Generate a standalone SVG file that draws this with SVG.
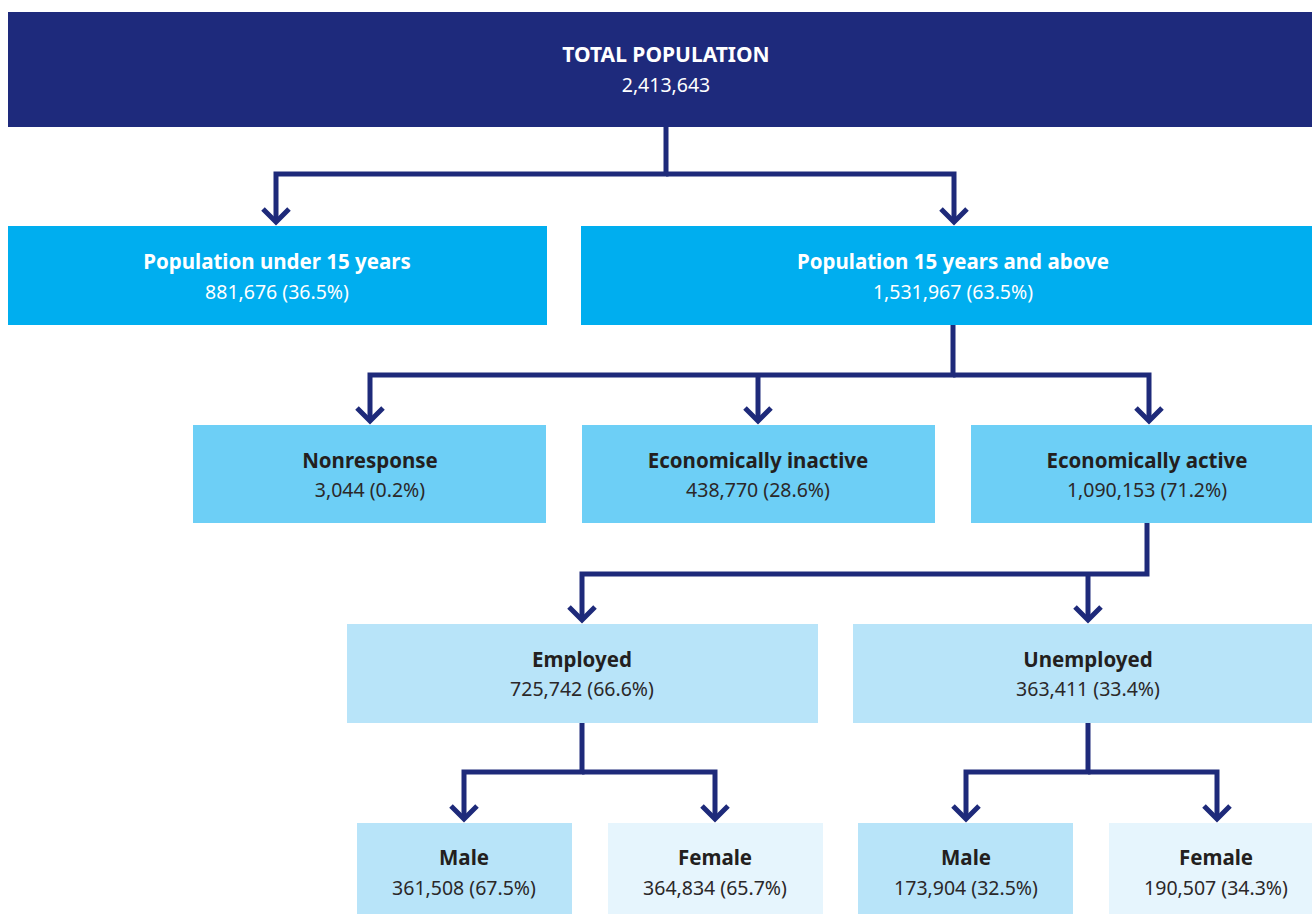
<svg xmlns="http://www.w3.org/2000/svg" width="1312" height="914" viewBox="0 0 1312 914">
<style>
.t{font-family:"Noto Sans","Open Sans",sans-serif;font-weight:bold;font-size:20.5px;text-anchor:middle;fill:#231f20}
.n{font-family:"Noto Sans","Open Sans",sans-serif;font-size:19.5px;text-anchor:middle;fill:#2b2829}
.w{fill:#ffffff}
.c{fill:none;stroke:#1e2a7a;stroke-width:5;stroke-linejoin:miter;marker-end:url(#arr)}
.l1{fill:#1e2a7c}.l2{fill:#00aeef}.l3{fill:#6dcff6}.l4{fill:#b8e4f9}.l5{fill:#e6f5fd}
</style>
<defs>
<marker id="arr" markerUnits="userSpaceOnUse" markerWidth="40" markerHeight="40" viewBox="-20 -20 40 40" refX="0" refY="0" orient="auto">
<path d="M-13,-13 L0,0 L-13,13" fill="none" stroke="#1e2a7a" stroke-width="5"/>
</marker>
</defs>
<rect width="1312" height="914" fill="#ffffff"/>
<g id="total"><rect class="l1" x="8" y="12" width="1304" height="115"/><text class="t w" x="666" y="62" style="font-size:21px">TOTAL POPULATION</text><text class="n w" x="666" y="92">2,413,643</text></g>
<g id="under15"><rect class="l2" x="8" y="226" width="539" height="99"/><text class="t w" x="277" y="269">Population under 15 years</text><text class="n w" x="277" y="299">881,676 (36.5%)</text></g>
<g id="over15"><rect class="l2" x="581" y="226" width="731" height="99"/><text class="t w" x="953" y="269">Population 15 years and above</text><text class="n w" x="953" y="299">1,531,967 (63.5%)</text></g>
<g id="nonresponse"><rect class="l3" x="193" y="425" width="353" height="98"/><text class="t" x="370" y="468">Nonresponse</text><text class="n" x="370" y="497">3,044 (0.2%)</text></g>
<g id="inactive"><rect class="l3" x="582" y="425" width="353" height="98"/><text class="t" x="758" y="468">Economically inactive</text><text class="n" x="758" y="497">438,770 (28.6%)</text></g>
<g id="active"><rect class="l3" x="971" y="425" width="341" height="98"/><text class="t" x="1147" y="468">Economically active</text><text class="n" x="1147" y="497">1,090,153 (71.2%)</text></g>
<g id="employed"><rect class="l4" x="347" y="624" width="471" height="99"/><text class="t" x="582" y="667">Employed</text><text class="n" x="582" y="696">725,742 (66.6%)</text></g>
<g id="unemployed"><rect class="l4" x="853" y="624" width="459" height="99"/><text class="t" x="1088" y="667">Unemployed</text><text class="n" x="1088" y="696">363,411 (33.4%)</text></g>
<g id="emp-male"><rect class="l4" x="357" y="823" width="215" height="91"/><text class="t" x="464" y="865">Male</text><text class="n" x="464" y="895">361,508 (67.5%)</text></g>
<g id="emp-female"><rect class="l5" x="608" y="823" width="215" height="91"/><text class="t" x="715" y="865">Female</text><text class="n" x="715" y="895">364,834 (65.7%)</text></g>
<g id="unemp-male"><rect class="l4" x="858" y="823" width="215" height="91"/><text class="t" x="966" y="865">Male</text><text class="n" x="966" y="895">173,904 (32.5%)</text></g>
<g id="unemp-female"><rect class="l5" x="1109" y="823" width="203" height="91"/><text class="t" x="1216" y="865">Female</text><text class="n" x="1216" y="895">190,507 (34.3%)</text></g>
<g id="connectors">
<path class="c" d="M666,127 V174 H276 V222"/>
<path class="c" d="M666,174 H954 V222"/>
<path class="c" d="M953,325 V375 H370 V421"/>
<path class="c" d="M953,375 H1149 V421"/>
<path class="c" d="M758,375 V421"/>
<path class="c" d="M1147,523 V574 H582 V620"/>
<path class="c" d="M1088,574 V620"/>
<path class="c" d="M582,723 V772 H464 V819"/>
<path class="c" d="M582,772 H715 V819"/>
<path class="c" d="M1088,723 V772 H966 V819"/>
<path class="c" d="M1088,772 H1217 V819"/>
</g>
</svg>
